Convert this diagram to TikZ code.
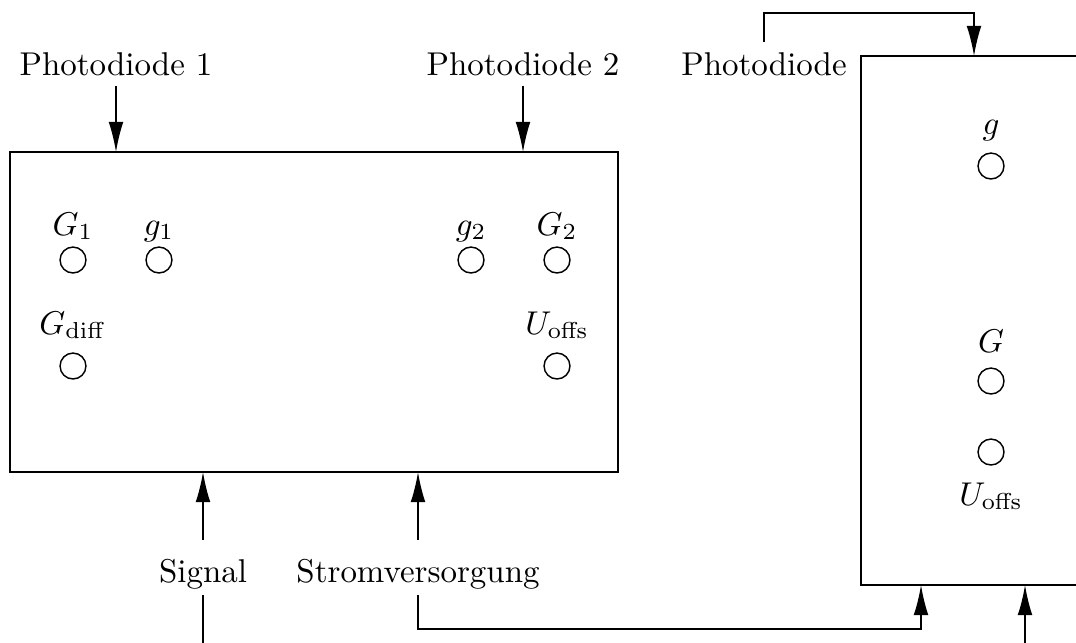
\documentclass[tikz,border=0pt]{standalone}
\usepackage{fix-cm}
\usetikzlibrary{arrows.meta}
\begin{document}
\begin{tikzpicture}[x=0.3125pt,y=-0.3125pt,
  font=\fontsize{10.3pt}{12pt}\selectfont,
  knob/.style={draw,circle,minimum size=8.1pt,inner sep=0pt,line width=0.45pt},
  txt/.style={anchor=base,inner sep=3pt},
  arr/.style={-{Latex[length=9.4pt,width=4.6pt]},line width=0.45pt},
  ln/.style={line width=0.45pt}]
\clip (0,0) rectangle (1076,642);
% boxes
\draw[ln] (10,152) rectangle (618,472);
\draw[ln] (861,56) rectangle (1110,585);
% top labels
\node[txt] (pd1) at (116,75) {Photodiode 1};
\node[txt] (pd2) at (523,75) {Photodiode 2};
\node[txt] (pd) at (764,75) {Photodiode};
\coordinate (pd1in) at (116,152);
\coordinate (pd2in) at (523,152);
\coordinate (rbin) at (974,56);
\draw[arr] (pd1.south) -- (pd1in);
\draw[arr] (pd2.south) -- (pd2in);
\draw[arr] (pd.north) |- (974,13) -- (rbin);
% knobs left box
\node[knob] (kG1) at (73,260) {};
\node[knob] (kg1) at (159,260) {};
\node[knob] (kg2) at (471,260) {};
\node[knob] (kG2) at (557,260) {};
\node[knob] (kGd) at (73,366) {};
\node[knob] (kUo) at (557,366) {};
\node[txt] (tG1) at (73,235) {$G_1$};
\node[txt] (tg1) at (159,235) {$g_1$};
\node[txt] (tg2) at (471,235) {$g_2$};
\node[txt] (tG2) at (557,235) {$G_2$};
\node[txt] (tGd) at (73,334) {$G_{\mathrm{diff}}$};
\node[txt] (tUo) at (557,334) {$U_{\mathrm{offs}}$};
% knobs right box
\node[knob] (rg) at (991,166) {};
\node[knob] (rG) at (991,381) {};
\node[knob] (rU) at (991,452) {};
\node[txt] (trg) at (991,134) {$g$};
\node[txt] (trG) at (991,352) {$G$};
\node[txt] (trU) at (991,505) {$U_{\mathrm{offs}}$};
% bottom labels
\node[txt] (sig) at (203,582) {Signal};
\node[txt] (sv) at (418,582) {Stromversorgung};
\coordinate (sigin) at (203,472);
\coordinate (svin) at (418,472);
\coordinate (rbsv) at (921,585);
\coordinate (rbx) at (1025,585);
\coordinate (sigend) at (203,660);
\coordinate (rbend) at (1025,660);
\draw[arr] (203,540) -- (sigin);
\draw[arr] (418,540) -- (svin);
\draw[ln] (203,595) -- (sigend);
\draw[arr] (418,595) |- (921,629) -- (rbsv);
\draw[arr] (rbend) -- (rbx);
\end{tikzpicture}
\end{document}
